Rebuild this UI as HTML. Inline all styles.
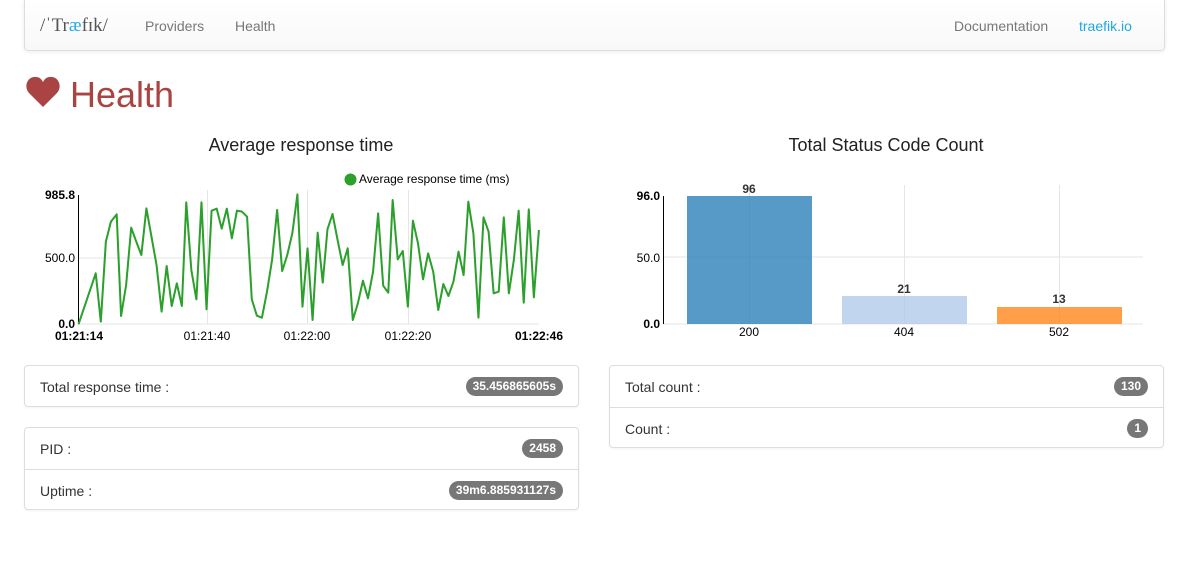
<!DOCTYPE html>
<html><head><meta charset="utf-8"><style>
body{margin:0;width:1186px;height:567px;background:#fff;font-family:"Liberation Sans",sans-serif;position:relative;overflow:hidden;color:#333}
.abs{position:absolute}
.nav{left:24px;top:0;width:1139px;height:50px;border:1px solid #ddd;border-top:none;border-radius:0 0 4px 4px;background:linear-gradient(#fff,#f8f8f8);box-shadow:0 1px 4px rgba(0,0,0,.08)}
.nav span{position:absolute;top:18px;font-size:14px;color:#777}
.card{border:1px solid #ddd;border-radius:4px;box-shadow:0 1px 2px rgba(0,0,0,.05);background:#fff}
.row{position:absolute;left:0;right:0;height:41px}
.row .l{position:absolute;left:15px;top:13px;font-size:14px;color:#333}
.badge{position:absolute;right:15px;top:11px;background:#777;color:#fff;font-weight:bold;font-size:12px;padding:2px 7px 3px;border-radius:10px;line-height:14px}
.sep{border-top:1px solid #ddd}
</style></head><body>
<div class="abs nav">
<span style="left:15px;top:15px;font-family:'Liberation Serif',serif;font-size:19px;color:#555">/ˈTr<span style="position:static;color:#29a9e6;font-size:19px;font-family:'Liberation Serif',serif">æ</span>fɪk/</span>
<span style="left:120px">Providers</span>
<span style="left:210px">Health</span>
<span style="left:929px">Documentation</span>
<span style="left:1054px;color:#1ea7e0">traefik.io</span>
</div>
<svg class="abs" style="left:26px;top:76px" width="34" height="32" viewBox="0 0 34 32"><path d="M17 31 L3 17 C-3 10 2 0 10 1 C14 1 16 4 17 6 C18 4 20 1 24 1 C32 0 37 10 31 17 Z" fill="#a94442"/></svg>
<div class="abs" style="left:70px;top:74px;font-size:36px;color:#a94442">Health</div>

<div class="abs" style="left:24px;top:135px;width:554px;text-align:center;font-size:18px;color:#222">Average response time</div>
<div class="abs" style="left:609px;top:135px;width:554px;text-align:center;font-size:18px;color:#222">Total Status Code Count</div>

<svg class="abs" style="left:0;top:160px" width="1186" height="190" font-family="Liberation Sans,sans-serif" font-size="12">
<g stroke="#e5e5e5" stroke-width="1">
<line x1="78" y1="98" x2="539" y2="98"/><line x1="78" y1="164" x2="539" y2="164"/>
<line x1="207.5" y1="30" x2="207.5" y2="164"/><line x1="307.5" y1="30" x2="307.5" y2="164"/><line x1="408.5" y1="30" x2="408.5" y2="164"/>
</g>
<line x1="78.5" y1="35" x2="78.5" y2="164" stroke="#000"/>
<text x="75" y="39" text-anchor="end" font-weight="bold">985.8</text>
<text x="75" y="102" text-anchor="end">500.0</text>
<text x="75" y="168" text-anchor="end" font-weight="bold">0.0</text>
<text x="79" y="180" text-anchor="middle" font-weight="bold">01:21:14</text>
<text x="207" y="180" text-anchor="middle">01:21:40</text>
<text x="307" y="180" text-anchor="middle">01:22:00</text>
<text x="408" y="180" text-anchor="middle">01:22:20</text>
<text x="539" y="180" text-anchor="middle" font-weight="bold">01:22:46</text>
<circle cx="350.5" cy="19.5" r="6" fill="#2ca02c"/>
<text x="359" y="23">Average response time (ms)</text>
<!-- bar chart -->
<g stroke="#e5e5e5"><line x1="663" y1="97" x2="1143" y2="97"/><line x1="663" y1="164" x2="1143" y2="164"/>
<line x1="749.5" y1="25" x2="749.5" y2="164"/><line x1="904.5" y1="25" x2="904.5" y2="164"/><line x1="1059.5" y1="25" x2="1059.5" y2="164"/></g>
<rect x="687" y="36" width="125" height="128" fill="#1f77b4" fill-opacity=".75"/>
<rect x="842" y="136" width="125" height="28" fill="#aec7e8" fill-opacity=".75"/>
<rect x="997" y="147" width="125" height="17" fill="#ff7f0e" fill-opacity=".75"/>
<line x1="663.5" y1="36" x2="663.5" y2="164" stroke="#000"/>
<text x="660" y="40" text-anchor="end" font-weight="bold">96.0</text>
<text x="660" y="102" text-anchor="end">50.0</text>
<text x="660" y="168" text-anchor="end" font-weight="bold">0.0</text>
<g font-weight="bold" fill="#333" text-anchor="middle"><text x="749" y="33">96</text><text x="904" y="133">21</text><text x="1059" y="143">13</text></g>
<g text-anchor="middle"><text x="749" y="176">200</text><text x="904" y="176">404</text><text x="1059" y="176">502</text></g>
</svg>
<svg class="abs" style="left:40px;top:170px" width="530" height="175" viewBox="0 0 1569 525" preserveAspectRatio="none">
<polyline fill="none" stroke="#2ca02c" stroke-width="6" stroke-linejoin="round" points="114,463 165,310 180,455 195,215 210,155 227,133 240,438 255,345 270,173 285,215 300,255 315,115 330,200 345,285 360,425 375,288 390,408 405,340 420,408 433,97 448,300 463,388 478,97 493,418 508,122 523,116 538,176 553,116 568,205 583,122 598,125 613,140 627,388 642,437 657,443 672,365 687,270 702,120 717,303 732,255 747,190 762,73 777,410 792,235 807,450 822,188 837,338 851,178 866,132 881,210 896,285 911,235 926,450 941,400 956,332 971,385 986,305 1001,130 1016,347 1031,368 1044,90 1059,268 1074,243 1089,410 1104,152 1119,220 1134,328 1149,250 1164,305 1179,420 1194,342 1209,378 1224,335 1239,245 1254,315 1268,95 1283,190 1298,443 1313,142 1328,185 1343,370 1358,365 1373,142 1388,370 1403,268 1417,122 1432,398 1447,118 1462,382 1477,180"/>
</svg>

<div class="abs card" style="left:24px;top:365px;width:553px;height:40px">
<div class="row" style="top:0"><span class="l">Total response time :</span><span class="badge">35.456865605s</span></div>
</div>
<div class="abs card" style="left:24px;top:427px;width:553px;height:81px">
<div class="row" style="top:0"><span class="l">PID :</span><span class="badge">2458</span></div>
<div class="row sep" style="top:41px"><span class="l">Uptime :</span><span class="badge">39m6.885931127s</span></div>
</div>
<div class="abs card" style="left:609px;top:365px;width:553px;height:81px">
<div class="row" style="top:0"><span class="l">Total count :</span><span class="badge">130</span></div>
<div class="row sep" style="top:41px"><span class="l">Count :</span><span class="badge">1</span></div>
</div>
</body></html>
